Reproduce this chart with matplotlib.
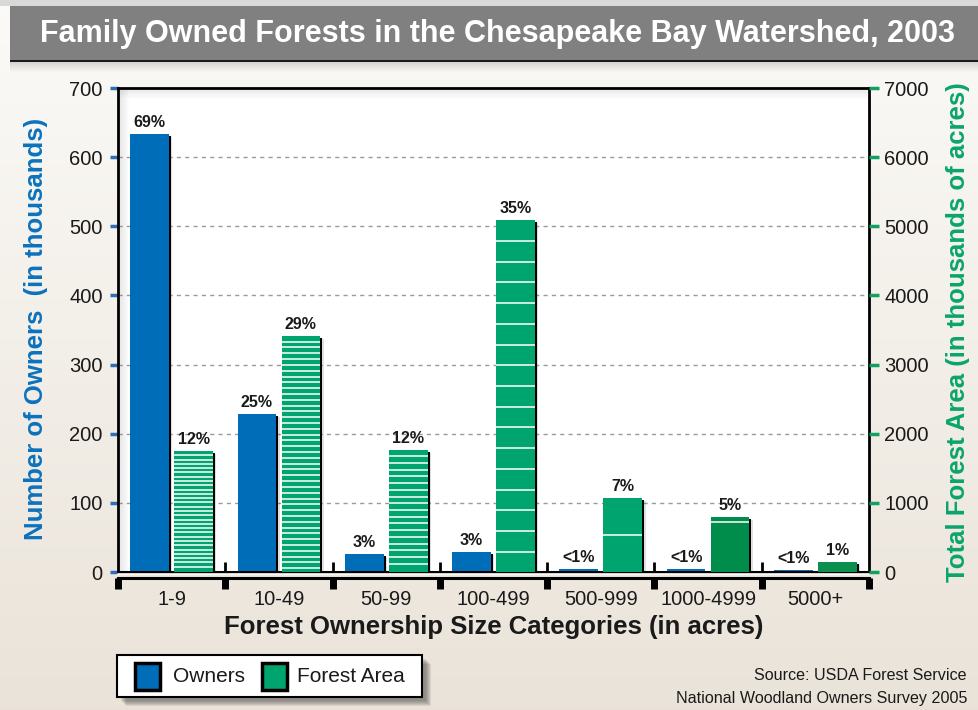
import numpy as np
import matplotlib
matplotlib.use("Agg")
import matplotlib.pyplot as plt
from matplotlib import font_manager as fm
from matplotlib.patches import Rectangle

# ---- data -------------------------------------------------------------
categories = ["1-9", "10-49", "50-99", "100-499", "500-999", "1000-4999", "5000+"]
owners = [634, 229, 26, 29, 4, 4, 3]                     # thousands of owners
forest_area = [1750, 3415, 1770, 5090, 1070, 795, 145]   # thousands of acres
owners_pct = ["69%", "25%", "3%", "3%", "<1%", "<1%", "<1%"]
area_pct = ["12%", "29%", "12%", "35%", "7%", "5%", "1%"]
series_names = ["Owners", "Forest Area"]

# ---- style ------------------------------------------------------------
BLUE = "#006db8"
GREEN = "#00a46e"
DARK_GREEN = "#008c4a"
LABEL_BLUE = "#0b72bd"
LABEL_GREEN = "#0aa56c"

installed = {f.name for f in fm.fontManager.ttflist}
HAS_NARROW = "Liberation Sans Narrow" in installed
NARROW = "Liberation Sans Narrow" if HAS_NARROW else "Liberation Sans"
SANS = "Liberation Sans"
plt.rcParams["font.family"] = [SANS, "DejaVu Sans"]

W, H = 979, 710
fig = plt.figure(figsize=(W / 100, H / 100), dpi=100)

# page background: soft vertical gradient
bg = fig.add_axes([0, 0, 1, 1], zorder=-100)
grad = np.linspace(0, 1, 256)[:, None]
top_c = np.array([0.985, 0.982, 0.972])
bot_c = np.array([0.918, 0.890, 0.850])
img = top_c + (bot_c - top_c) * grad[..., None]
bg.imshow(img, aspect="auto", extent=[0, 1, 0, 1], origin="upper")
bg.set_axis_off()


def fx(px):
    return px / W


def fy(py):
    return 1 - py / H


def fig_rect(x0, y0, x1, y1, **kw):
    # rectangle given in pixel coordinates (top-left origin)
    r = Rectangle((fx(x0), fy(y1)), (x1 - x0) / W, (y1 - y0) / H,
                  transform=fig.transFigure, **kw)
    fig.patches.append(r)
    return r


# title bar
fig_rect(0, 0, W, 6, facecolor="#d9d9d9", edgecolor="none", zorder=-50)
fig_rect(10, 6, W, 60, facecolor="#808080", edgecolor="none", zorder=-40)
fig_rect(10, 59.5, W, 61.5, facecolor="#1a1a1a", edgecolor="none", zorder=-39)
for k in range(10):
    fig_rect(10, 62 + k, W, 63 + k, facecolor="#555555", alpha=0.22 * (1 - k / 10),
             edgecolor="none", zorder=-39)
fig.text(fx(498), fy(34), "Family Owned Forests in the Chesapeake Bay Watershed, 2003",
         ha="center", va="center", color="white", fontsize=26 if HAS_NARROW else 22,
         fontweight="bold", family=[NARROW, "DejaVu Sans"])

# ---- axes -------------------------------------------------------------
L, R, T, B = 118, 869, 88, 572
ax = fig.add_axes([fx(L), fy(B), (R - L) / W, (B - T) / H])
ax2 = ax.twinx()
ax.set_zorder(1)
ax2.set_zorder(2)
ax2.patch.set_visible(False)
ax.set_facecolor("white")

n = len(categories)
x = np.arange(n)
bw = 0.36
off = 0.205

ax.set_xlim(-0.5, n - 0.5)
ax.set_ylim(0, 700)
ax2.set_ylim(0, 7000)

# dotted gridlines
for v in range(100, 700, 100):
    ax.axhline(v, color="#9a9a9a", lw=1.0, ls=(0, (3, 3)), zorder=0)

# inner shadow along top/left frame of plot area
for k in range(10):
    a = 0.12 * (1 - k / 10)
    ax.axvline(-0.5 + (k + 1) * 0.0093, color="#777777", alpha=a, lw=1.2, zorder=0.5)
    ax.axhline(700 - (k + 1) * 1.45, color="#777777", alpha=a * 0.8, lw=1.2, zorder=0.5)

px_x = n / (R - L)            # data units per pixel, x
px_y1 = 700 / (B - T)         # data units per pixel, left axis
px_y2 = 7000 / (B - T)        # data units per pixel, right axis


def shaded_bar(a, xc, h, color, pxy):
    # soft shadow + dark right edge, then the bar itself
    a.bar(xc + 3.5 * px_x, max(h - 3 * pxy, 0), bw, color="#000000", alpha=0.12,
          zorder=2, linewidth=0)
    a.bar(xc + 2 * px_x, max(h - 2 * pxy, 0), bw, color="#000000", zorder=2.5, linewidth=0)
    a.bar(xc, h, bw, color=color, zorder=3, linewidth=0)


owner_x = x - off
area_x = x + off
for xc, h in zip(owner_x, owners):
    shaded_bar(ax, xc, h, BLUE, px_y1)

area_colors = [GREEN, GREEN, GREEN, GREEN, GREEN, DARK_GREEN, "#0a8f4c"]
for xc, h, c in zip(area_x, forest_area, area_colors):
    shaded_bar(ax2, xc, h, c, px_y2)

# horizontal stripes in the forest-area bars (spacing below the bar top)
stripe_pitch = [62, 84, 97, 300, 535, 72, 0]
stripe_max = [99, 99, 99, 99, 99, 1, 0]
for xc, h, p, m in zip(area_x, forest_area, stripe_pitch, stripe_max):
    if p <= 0:
        continue
    ys = h - p * np.arange(1, m + 1)
    ys = ys[ys > p * 0.4]
    ax2.hlines(ys, xc - bw / 2, xc + bw / 2, colors="white", lw=1.3, alpha=0.85, zorder=4)

# value labels
for xc, h, s in zip(owner_x, owners, owners_pct):
    ax.text(xc, h + 4 * px_y1, s, ha="center", va="bottom", fontsize=11.5,
            fontweight="bold", color="#1a1a1a", zorder=6)
for xc, h, s in zip(area_x, forest_area, area_pct):
    ax2.text(xc, h + 4 * px_y2, s, ha="center", va="bottom", fontsize=11.5,
             fontweight="bold", color="#1a1a1a", zorder=6)

# frame
for sp in ("left", "top", "right"):
    ax.spines[sp].set_linewidth(2)
    ax.spines[sp].set_color("black")
for sp in ax2.spines.values():
    sp.set_visible(False)
ax.spines["bottom"].set_position(("outward", 4))
ax.spines["bottom"].set_linewidth(2.2)
ax.axhline(0, color="black", lw=2.2, zorder=5, clip_on=False)
ax.axhline(0 - 2 * px_y1, color="white", lw=1.2, zorder=5, clip_on=False)

# separators rising from the axis between categories
bounds = np.arange(n - 1) + 0.5
ax.vlines(bounds, 0, 15, colors="black", lw=2, zorder=5)

# x ticks: boundaries as thick marks, category names centered
ax.set_xticks(np.arange(n + 1) - 0.5)
ax.set_xticklabels([])
ax.tick_params(axis="x", which="major", direction="out", length=8, width=5, color="black")
ax.set_xticks(x, minor=True)
ax.set_xticklabels(categories, minor=True, fontsize=14.5, color="#1a1a1a")
ax.tick_params(axis="x", which="minor", length=0, pad=9)

ax.set_yticks(np.arange(0, 701, 100))
ax.tick_params(axis="y", direction="out", length=6, width=2.5, color="#2e6fb7",
               labelsize=14.5, labelcolor="#1a1a1a", pad=5)
ax2.set_yticks(np.arange(0, 7001, 1000))
ax2.tick_params(axis="y", direction="out", length=7, width=2.5, color="#10a060",
                labelsize=14.5, labelcolor="#1a1a1a", pad=4)

ax.set_xlabel("Forest Ownership Size Categories (in acres)", fontsize=18.5,
              fontweight="bold", color="#1a1a1a", labelpad=4)

fig.text(fx(36), fy(329), "Number of Owners  (in thousands)", rotation=90,
         ha="center", va="center", fontsize=18.5, fontweight="bold", color=LABEL_BLUE)
fig.text(fx(958), fy(332), "Total Forest Area (in thousands of acres)", rotation=90,
         ha="center", va="center", fontsize=18.5, fontweight="bold", color=LABEL_GREEN)

# legend box with drop shadow
for k in range(6):
    fig_rect(121 + k, 659 + k, 426 + k, 701 + k, facecolor="#333333",
             alpha=0.10, edgecolor="none", zorder=1)
fig_rect(117, 655, 422, 697, facecolor="white", edgecolor="black", linewidth=1.5, zorder=2)
leg_text_size = 17 if HAS_NARROW else 15
for (sx, tx), name, col in zip([(135, 173), (262, 297)], series_names, [BLUE, GREEN]):
    fig_rect(sx + 2, 665, sx + 27, 692, facecolor="#000000", alpha=0.25,
             edgecolor="none", zorder=3)
    fig_rect(sx, 663, sx + 25, 690, facecolor=col, edgecolor="black", linewidth=2.5, zorder=4)
    fig.text(fx(tx), fy(677), name, ha="left", va="center", fontsize=leg_text_size,
             family=[NARROW, "DejaVu Sans"], color="#1a1a1a", zorder=5)

src_size = 13.5 if HAS_NARROW else 11.6
fig.text(fx(967), fy(676), "Source: USDA Forest Service", ha="right", va="center",
         fontsize=src_size, family=[NARROW, "DejaVu Sans"], color="#1a1a1a")
fig.text(fx(967), fy(698), "National Woodland Owners Survey 2005", ha="right", va="center",
         fontsize=src_size, family=[NARROW, "DejaVu Sans"], color="#1a1a1a")

fig.savefig("out.png", dpi=100)
